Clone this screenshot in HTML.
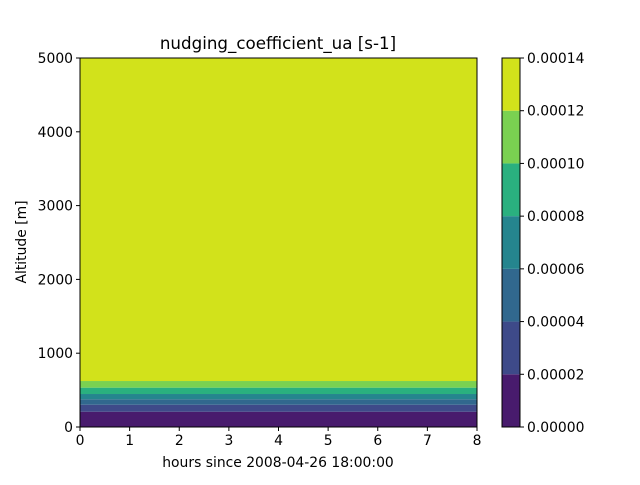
<!DOCTYPE html>
<html><head><meta charset="utf-8"><style>
body{margin:0;background:#fff}
svg text{font-family:"DejaVu Sans","Liberation Sans",sans-serif;font-size:13.9px;fill:#000}
</style></head><body>
<svg id="c" width="640" height="480">
<rect width="640" height="480" fill="#fff"/>
</svg>
<script>
const hours=[0,8];
const xTicks=[0,1,2,3,4,5,6,7,8];
const yTicks=[0,1000,2000,3000,4000,5000];
const bandTops=[207,302,375,447,533,623,5000];
const levels=[0,0.00002,0.00004,0.00006,0.00008,0.00010,0.00012,0.00014];
const levelLabels=["0.00000","0.00002","0.00004","0.00006","0.00008","0.00010","0.00012","0.00014"];
const colors=["#481b6d","#3e4a89","#31688e","#25858e","#2ab07f","#7ad151","#d2e21b"];
const svg=document.getElementById('c');const NS='http://www.w3.org/2000/svg';
const L=80,R=477,T=58,B=427;
const xs=v=>L+(v-hours[0])/(hours[1]-hours[0])*(R-L);
const ys=v=>B-v/5000*(B-T);
function mk(t,a,p){const e=document.createElementNS(NS,t);for(const k in a)e.setAttribute(k,a[k]);(p||svg).appendChild(e);return e;}
let prev=0;
bandTops.forEach((t,i)=>{const r=mk('rect',{x:xs(hours[0]),y:ys(t),width:xs(hours[1])-xs(hours[0]),height:ys(prev)-ys(t),fill:colors[i]});

prev=t;});
mk('rect',{x:L,y:T,width:R-L,height:B-T,fill:'none',stroke:'#000','stroke-width':1});
xTicks.forEach(v=>{const x=xs(v);mk('line',{x1:x,x2:x,y1:B,y2:B+4,stroke:'#000'});const t=mk('text',{x:x,y:B+18,'text-anchor':'middle'});t.textContent=v;

});
yTicks.forEach(v=>{const y=ys(v);mk('line',{x1:L-4,x2:L,y1:y,y2:y,stroke:'#000'});const t=mk('text',{x:L-7,y:y+5,'text-anchor':'end'});t.textContent=v;

});
let t=mk('text',{x:278,y:49,'text-anchor':'middle'});t.textContent='nudging_coefficient_ua [s-1]';t.style.fontSize='16.7px';


t=mk('text',{x:278,y:467,'text-anchor':'middle'});t.textContent='hours since 2008-04-26 18:00:00';


t=mk('text',{x:0,y:0,'text-anchor':'middle',transform:'translate(26,242) rotate(-90)'});t.textContent='Altitude [m]';


const CL=502,CR=520,n=levels.length-1;
const cy=v=>B-(v-levels[0])/(levels[n]-levels[0])*(B-T);
for(let i=0;i<n;i++){const r=mk('rect',{x:CL,y:cy(levels[i+1]),width:CR-CL,height:cy(levels[i])-cy(levels[i+1]),fill:colors[i]});

}
mk('rect',{x:CL,y:T,width:CR-CL,height:B-T,fill:'none',stroke:'#000'});
levels.forEach((v,i)=>{const y=cy(v);mk('line',{x1:CR,x2:CR+4,y1:y,y2:y,stroke:'#000'});const tt=mk('text',{x:CR+7,y:y+5});tt.textContent=levelLabels[i];

});
</script>
</body></html>
